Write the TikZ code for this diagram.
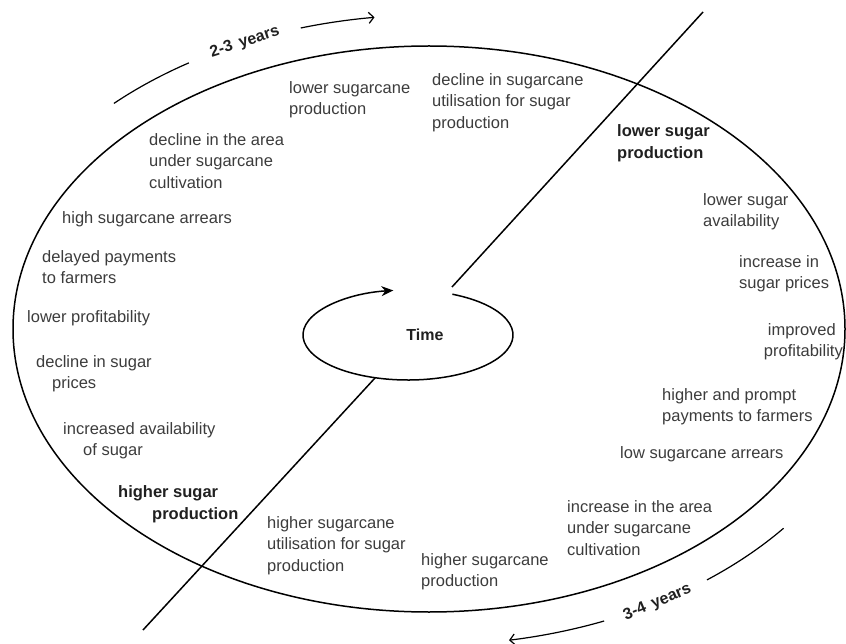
\documentclass[tikz,border=0pt]{standalone}
\usepackage{fontspec}
\setmainfont{Liberation Sans}
\usetikzlibrary{arrows.meta}
\definecolor{txtgray}{HTML}{3C3C3C}
\definecolor{txtdark}{HTML}{202020}
\begin{document}
\begin{tikzpicture}[x=1pt,y=-1pt,
  lbl/.style={inner sep=0pt, anchor=north west, align=left, text=txtgray,
    font=\fontsize{16.5}{21.5}\selectfont},
  keylbl/.style={lbl, text=txtdark, font=\fontsize{16.5}{22}\selectfont\bfseries},
  yrs/.style={inner sep=0pt, text=txtdark, font=\fontsize{16}{18}\selectfont\bfseries},
  stroke/.style={line width=1.5pt, black},
  thin stroke/.style={line width=1.2pt, black},
]
\useasboundingbox (0,0) rectangle (846,644);

% outer cycle
\draw[stroke] (429,329) ellipse [x radius=416, y radius=283];

% the axis that splits the cycle in two halves
\coordinate (axUpTop) at (703,12);
\coordinate (axUpEnd) at (452,287);
\coordinate (axLoEnd) at (375,378);
\coordinate (axLoBot) at (143,630);
\draw[stroke] (axUpTop) -- (axUpEnd);
\draw[stroke] (axLoEnd) -- (axLoBot);

% time loop in the centre
\draw[stroke, -{Stealth[length=12pt,width=10pt]}]
  (408,335) ++(-65:105 and 45)
  arc [start angle=-65, end angle=262, x radius=105, y radius=45];
\node[yrs] (time) at (425,335) {Time};

% durations along the outside
\draw[thin stroke] (430,330) ++(226:455 and 315)
  arc [start angle=226, end angle=238, x radius=455, y radius=315];
\path (430,330) ++(246:455 and 315) node[yrs, rotate=18] (yrsA) {2-3\hspace{7pt}years};
\draw[thin stroke, -{Straight Barb[length=5pt,width=11pt]}] (430,330) ++(253.5:455 and 315)
  arc [start angle=253.5, end angle=263, x radius=455, y radius=315];

\draw[thin stroke] (430,330) ++(39:455 and 315)
  arc [start angle=39, end angle=52.5, x radius=455, y radius=315];
\path (430,330) ++(60:455 and 315) node[yrs, rotate=23] (yrsB) {3-4\hspace{7pt}years};
\draw[thin stroke, -{Straight Barb[length=5pt,width=11pt]}] (430,330) ++(67.5:455 and 315)
  arc [start angle=67.5, end angle=80, x radius=455, y radius=315];

% shortage half (upper left to right)
\node[lbl] (lscp) at (289,81) {lower sugarcane\\production};
\node[lbl] (dscu) at (432,73) {decline in sugarcane\\utilisation for sugar\\production};
\node[keylbl] (lsp) at (617,124) {lower sugar\\production};
\node[lbl] (lsa) at (703,193) {lower sugar\\availability};
\node[lbl] (isp) at (739,255) {increase in\\sugar prices};
\node[lbl, anchor=north east, align=right] (ipr) at (843,323) {improved\hspace*{7pt}\\profitability};
\node[lbl] (hpp) at (662,388) {higher and prompt\\payments to farmers};
\node[lbl] (lsa2) at (620,446) {low sugarcane arrears};
\node[lbl] (iac) at (567,500) {increase in the area\\under sugarcane\\cultivation};
\node[lbl] (hscp) at (421,553) {higher sugarcane\\production};
\node[lbl] (hscu) at (267,516) {higher sugarcane\\utilisation for sugar\\production};

% surplus half (lower left to top)
\node[keylbl, align=left] (hsp) at (118,485) {higher sugar\\\hspace*{34pt}production};
\node[lbl] (ias) at (63,422) {increased availability\\\hspace*{20pt}of sugar};
\node[lbl] (dsp) at (36,355) {decline in sugar\\\hspace*{16pt}prices};
\node[lbl] (lpr) at (27,310) {lower profitability};
\node[lbl] (dpf) at (42,250) {delayed payments\\to farmers};
\node[lbl] (hsa) at (62,211) {high sugarcane arrears};
\node[lbl] (dac) at (149,133) {decline in the area\\under sugarcane\\cultivation};
\end{tikzpicture}
\end{document}
